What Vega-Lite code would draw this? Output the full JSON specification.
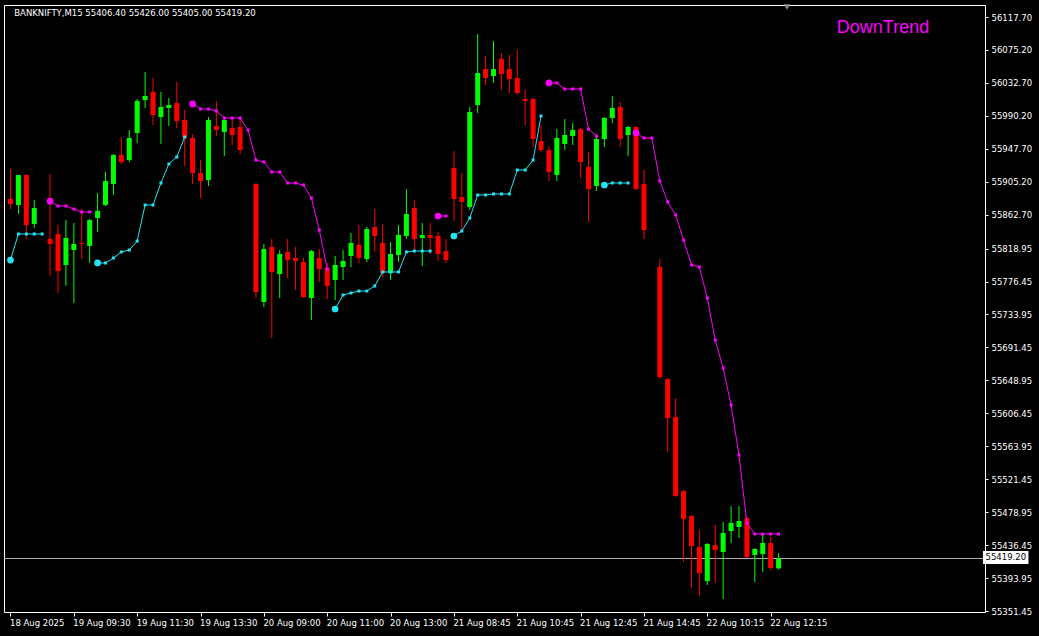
{
  "$schema": "https://vega.github.io/schema/vega-lite/v6.json",
  "width": 981,
  "height": 607,
  "autosize": {"type": "none"},
  "padding": {"left": 4, "top": 5, "right": 54, "bottom": 24},
  "background": "#000000",
  "config": {"view": {"stroke": "#ffffff", "strokeWidth": 1, "fill": "#000000"}},
  "resolve": {"axis": {"x": "independent", "y": "independent"}},
  "datasets": {
    "candles": [
      {"k":0,"o":55882.9,"h":55921.6,"l":55870.0,"c":55876.5},
      {"k":1,"o":55875.2,"h":55913.9,"l":55863.6,"c":55913.9},
      {"k":2,"o":55913.9,"h":55915.2,"l":55831.3,"c":55849.4},
      {"k":3,"o":55850.7,"h":55881.6,"l":55845.5,"c":55871.3},
      {"k":5,"o":55831.3,"h":55915.2,"l":55783.6,"c":55824.9},
      {"k":6,"o":55837.8,"h":55849.4,"l":55761.7,"c":55790.0},
      {"k":7,"o":55797.8,"h":55855.8,"l":55770.7,"c":55832.6},
      {"k":8,"o":55817.1,"h":55852.0,"l":55748.8,"c":55824.9},
      {"k":9,"o":55826.2,"h":55870.0,"l":55805.5,"c":55824.9},
      {"k":10,"o":55822.3,"h":55857.1,"l":55800.4,"c":55855.8},
      {"k":11,"o":55858.4,"h":55890.7,"l":55840.4,"c":55867.4},
      {"k":12,"o":55875.2,"h":55917.8,"l":55873.9,"c":55906.1},
      {"k":13,"o":55902.3,"h":55941.0,"l":55888.1,"c":55939.7},
      {"k":14,"o":55939.7,"h":55962.9,"l":55928.1,"c":55930.7},
      {"k":15,"o":55933.2,"h":55971.9,"l":55930.7,"c":55961.6},
      {"k":16,"o":55968.1,"h":56011.9,"l":55955.2,"c":56009.3},
      {"k":17,"o":56010.6,"h":56046.8,"l":56000.3,"c":56015.8},
      {"k":18,"o":56021.0,"h":56039.0,"l":55978.4,"c":55991.3},
      {"k":19,"o":55988.7,"h":56021.0,"l":55953.9,"c":56001.6},
      {"k":20,"o":56000.3,"h":56013.2,"l":55977.1,"c":56004.2},
      {"k":21,"o":56006.8,"h":56033.9,"l":55974.5,"c":55983.5},
      {"k":22,"o":55984.8,"h":55997.7,"l":55925.5,"c":55961.6},
      {"k":23,"o":55961.6,"h":55966.8,"l":55902.3,"c":55916.5},
      {"k":24,"o":55916.5,"h":55933.2,"l":55884.2,"c":55906.1},
      {"k":25,"o":55907.4,"h":55988.7,"l":55899.7,"c":55984.8},
      {"k":26,"o":55977.1,"h":56009.3,"l":55964.2,"c":55971.9},
      {"k":27,"o":55969.4,"h":55988.7,"l":55938.4,"c":55984.8},
      {"k":28,"o":55974.5,"h":55987.4,"l":55952.6,"c":55965.5},
      {"k":29,"o":55975.8,"h":55987.4,"l":55941.0,"c":55946.1},
      {"k":31,"o":55902.3,"h":55903.6,"l":55755.2,"c":55763.0},
      {"k":32,"o":55750.1,"h":55824.9,"l":55743.6,"c":55818.4},
      {"k":33,"o":55821.0,"h":55831.3,"l":55703.6,"c":55788.8},
      {"k":34,"o":55786.2,"h":55817.1,"l":55755.2,"c":55812.0},
      {"k":35,"o":55814.6,"h":55831.3,"l":55781.0,"c":55804.2},
      {"k":36,"o":55806.8,"h":55821.0,"l":55765.5,"c":55802.9},
      {"k":37,"o":55801.7,"h":55806.8,"l":55755.2,"c":55756.5},
      {"k":38,"o":55755.2,"h":55817.1,"l":55726.8,"c":55815.8},
      {"k":39,"o":55806.8,"h":55818.4,"l":55775.9,"c":55792.6},
      {"k":40,"o":55793.9,"h":55800.4,"l":55753.9,"c":55770.7},
      {"k":41,"o":55778.4,"h":55809.4,"l":55752.6,"c":55797.8},
      {"k":42,"o":55795.2,"h":55817.1,"l":55778.4,"c":55802.9},
      {"k":43,"o":55809.4,"h":55839.1,"l":55795.2,"c":55826.2},
      {"k":44,"o":55823.6,"h":55849.4,"l":55800.4,"c":55806.8},
      {"k":45,"o":55805.5,"h":55846.8,"l":55801.7,"c":55844.2},
      {"k":46,"o":55846.8,"h":55870.0,"l":55814.6,"c":55835.2},
      {"k":47,"o":55826.2,"h":55850.7,"l":55782.3,"c":55787.5},
      {"k":48,"o":55787.5,"h":55827.5,"l":55778.4,"c":55812.0},
      {"k":49,"o":55810.7,"h":55849.4,"l":55801.7,"c":55836.5},
      {"k":50,"o":55835.2,"h":55895.8,"l":55831.3,"c":55863.6},
      {"k":51,"o":55871.3,"h":55881.6,"l":55815.8,"c":55831.3},
      {"k":52,"o":55832.6,"h":55852.0,"l":55796.5,"c":55836.5},
      {"k":53,"o":55836.5,"h":55852.0,"l":55812.0,"c":55832.6},
      {"k":54,"o":55835.2,"h":55840.4,"l":55802.9,"c":55812.0},
      {"k":55,"o":55815.8,"h":55831.3,"l":55800.4,"c":55804.2},
      {"k":56,"o":55922.9,"h":55944.8,"l":55854.5,"c":55882.9},
      {"k":57,"o":55885.5,"h":55916.5,"l":55840.4,"c":55879.1},
      {"k":58,"o":55872.6,"h":56001.6,"l":55868.7,"c":55995.2},
      {"k":59,"o":56004.2,"h":56095.8,"l":55993.9,"c":56045.5},
      {"k":60,"o":56050.6,"h":56067.4,"l":56030.0,"c":56039.0},
      {"k":61,"o":56041.6,"h":56086.7,"l":56032.6,"c":56050.6},
      {"k":62,"o":56063.5,"h":56071.3,"l":56023.5,"c":56044.2},
      {"k":63,"o":56050.6,"h":56068.7,"l":56019.7,"c":56037.7},
      {"k":64,"o":56039.0,"h":56075.1,"l":56017.1,"c":56019.7},
      {"k":65,"o":56011.9,"h":56024.8,"l":55978.4,"c":56009.3},
      {"k":66,"o":56011.9,"h":56013.2,"l":55950.0,"c":55960.3},
      {"k":67,"o":55957.7,"h":55978.4,"l":55943.6,"c":55946.1},
      {"k":68,"o":55946.1,"h":55951.3,"l":55906.1,"c":55917.8},
      {"k":69,"o":55913.9,"h":55973.2,"l":55906.1,"c":55961.6},
      {"k":70,"o":55953.9,"h":55986.1,"l":55946.1,"c":55965.5},
      {"k":71,"o":55964.2,"h":55981.0,"l":55952.6,"c":55971.9},
      {"k":72,"o":55973.2,"h":55974.5,"l":55910.0,"c":55930.7},
      {"k":73,"o":55924.2,"h":55943.6,"l":55853.3,"c":55895.8},
      {"k":74,"o":55899.7,"h":55965.5,"l":55893.2,"c":55960.3},
      {"k":75,"o":55960.3,"h":55988.7,"l":55950.0,"c":55987.4},
      {"k":76,"o":55987.4,"h":56015.8,"l":55981.0,"c":56000.3},
      {"k":77,"o":56001.6,"h":56008.1,"l":55950.0,"c":55960.3},
      {"k":78,"o":55965.5,"h":55977.1,"l":55938.4,"c":55975.8},
      {"k":79,"o":55975.8,"h":55977.1,"l":55894.5,"c":55895.8},
      {"k":80,"o":55902.3,"h":55920.3,"l":55831.3,"c":55842.9},
      {"k":82,"o":55795.2,"h":55805.5,"l":55650.7,"c":55653.3},
      {"k":83,"o":55650.7,"h":55652.0,"l":55556.6,"c":55600.4},
      {"k":84,"o":55601.7,"h":55626.2,"l":55498.5,"c":55499.8},
      {"k":85,"o":55506.2,"h":55507.5,"l":55414.7,"c":55470.1},
      {"k":86,"o":55474.0,"h":55475.3,"l":55381.1,"c":55435.3},
      {"k":87,"o":55434.0,"h":55455.9,"l":55370.8,"c":55400.5},
      {"k":88,"o":55390.1,"h":55439.2,"l":55385.0,"c":55437.9},
      {"k":89,"o":55436.6,"h":55462.4,"l":55387.6,"c":55430.1},
      {"k":90,"o":55427.6,"h":55466.3,"l":55366.9,"c":55452.1},
      {"k":91,"o":55454.6,"h":55486.9,"l":55439.2,"c":55465.0},
      {"k":92,"o":55459.8,"h":55486.9,"l":55445.6,"c":55467.5},
      {"k":93,"o":55471.4,"h":55472.7,"l":55419.8,"c":55421.1},
      {"k":94,"o":55423.7,"h":55432.7,"l":55388.9,"c":55431.4},
      {"k":95,"o":55425.0,"h":55449.5,"l":55401.8,"c":55439.2},
      {"k":96,"o":55439.2,"h":55446.9,"l":55404.3,"c":55406.9},
      {"k":97,"o":55406.4,"h":55426.0,"l":55405.0,"c":55419.2}
    ],
    "st": [
      {"k":0,"v":55804.2,"t":"up","s":1,"d":1},
      {"k":1,"v":55837.8,"t":"up","s":1,"d":0},
      {"k":2,"v":55837.8,"t":"up","s":1,"d":0},
      {"k":3,"v":55837.8,"t":"up","s":1,"d":0},
      {"k":4,"v":55837.8,"t":"up","s":1,"d":0},
      {"k":5,"v":55880.3,"t":"dn","s":2,"d":1},
      {"k":6,"v":55873.9,"t":"dn","s":2,"d":0},
      {"k":7,"v":55873.9,"t":"dn","s":2,"d":0},
      {"k":8,"v":55870.0,"t":"dn","s":2,"d":0},
      {"k":9,"v":55866.2,"t":"dn","s":2,"d":0},
      {"k":10,"v":55866.2,"t":"dn","s":2,"d":0},
      {"k":11,"v":55800.4,"t":"up","s":3,"d":1},
      {"k":12,"v":55800.4,"t":"up","s":3,"d":0},
      {"k":13,"v":55806.8,"t":"up","s":3,"d":0},
      {"k":14,"v":55814.6,"t":"up","s":3,"d":0},
      {"k":15,"v":55817.1,"t":"up","s":3,"d":0},
      {"k":16,"v":55828.7,"t":"up","s":3,"d":0},
      {"k":17,"v":55875.2,"t":"up","s":3,"d":0},
      {"k":18,"v":55875.2,"t":"up","s":3,"d":0},
      {"k":19,"v":55903.6,"t":"up","s":3,"d":0},
      {"k":20,"v":55928.1,"t":"up","s":3,"d":0},
      {"k":21,"v":55937.1,"t":"up","s":3,"d":0},
      {"k":22,"v":55962.9,"t":"up","s":3,"d":0},
      {"k":23,"v":56005.5,"t":"dn","s":4,"d":1},
      {"k":24,"v":55999.0,"t":"dn","s":4,"d":0},
      {"k":25,"v":55999.0,"t":"dn","s":4,"d":0},
      {"k":26,"v":55996.4,"t":"dn","s":4,"d":0},
      {"k":27,"v":55987.4,"t":"dn","s":4,"d":0},
      {"k":28,"v":55987.4,"t":"dn","s":4,"d":0},
      {"k":29,"v":55987.4,"t":"dn","s":4,"d":0},
      {"k":30,"v":55971.9,"t":"dn","s":4,"d":0},
      {"k":31,"v":55933.2,"t":"dn","s":4,"d":0},
      {"k":32,"v":55930.7,"t":"dn","s":4,"d":0},
      {"k":33,"v":55917.8,"t":"dn","s":4,"d":0},
      {"k":34,"v":55917.8,"t":"dn","s":4,"d":0},
      {"k":35,"v":55903.6,"t":"dn","s":4,"d":0},
      {"k":36,"v":55903.6,"t":"dn","s":4,"d":0},
      {"k":37,"v":55901.0,"t":"dn","s":4,"d":0},
      {"k":38,"v":55884.2,"t":"dn","s":4,"d":0},
      {"k":39,"v":55842.9,"t":"dn","s":4,"d":0},
      {"k":40,"v":55792.6,"t":"dn","s":4,"d":0},
      {"k":41,"v":55741.0,"t":"up","s":5,"d":1},
      {"k":42,"v":55759.1,"t":"up","s":5,"d":0},
      {"k":43,"v":55761.7,"t":"up","s":5,"d":0},
      {"k":44,"v":55764.2,"t":"up","s":5,"d":0},
      {"k":45,"v":55764.2,"t":"up","s":5,"d":0},
      {"k":46,"v":55770.7,"t":"up","s":5,"d":0},
      {"k":47,"v":55788.8,"t":"up","s":5,"d":0},
      {"k":48,"v":55788.8,"t":"up","s":5,"d":0},
      {"k":49,"v":55788.8,"t":"up","s":5,"d":0},
      {"k":50,"v":55814.6,"t":"up","s":5,"d":0},
      {"k":51,"v":55815.8,"t":"up","s":5,"d":0},
      {"k":52,"v":55815.8,"t":"up","s":5,"d":0},
      {"k":53,"v":55815.8,"t":"up","s":5,"d":0},
      {"k":54,"v":55861.0,"t":"dn","s":6,"d":1},
      {"k":55,"v":55861.0,"t":"dn","s":6,"d":0},
      {"k":56,"v":55835.2,"t":"up","s":7,"d":1},
      {"k":57,"v":55841.6,"t":"up","s":7,"d":0},
      {"k":58,"v":55858.4,"t":"up","s":7,"d":0},
      {"k":59,"v":55888.1,"t":"up","s":7,"d":0},
      {"k":60,"v":55888.1,"t":"up","s":7,"d":0},
      {"k":61,"v":55889.4,"t":"up","s":7,"d":0},
      {"k":62,"v":55889.4,"t":"up","s":7,"d":0},
      {"k":63,"v":55889.4,"t":"up","s":7,"d":0},
      {"k":64,"v":55920.3,"t":"up","s":7,"d":0},
      {"k":65,"v":55920.3,"t":"up","s":7,"d":0},
      {"k":66,"v":55933.2,"t":"up","s":7,"d":0},
      {"k":67,"v":55990.0,"t":"up","s":7,"d":0},
      {"k":68,"v":56032.6,"t":"dn","s":8,"d":1},
      {"k":69,"v":56032.6,"t":"dn","s":8,"d":0},
      {"k":70,"v":56024.8,"t":"dn","s":8,"d":0},
      {"k":71,"v":56024.8,"t":"dn","s":8,"d":0},
      {"k":72,"v":56024.8,"t":"dn","s":8,"d":0},
      {"k":73,"v":55973.2,"t":"dn","s":8,"d":0},
      {"k":74,"v":55964.2,"t":"dn","s":8,"d":0},
      {"k":75,"v":55901.0,"t":"up","s":9,"d":1},
      {"k":76,"v":55903.6,"t":"up","s":9,"d":0},
      {"k":77,"v":55903.6,"t":"up","s":9,"d":0},
      {"k":78,"v":55903.6,"t":"up","s":9,"d":0},
      {"k":79,"v":55968.1,"t":"dn","s":10,"d":1},
      {"k":80,"v":55961.6,"t":"dn","s":10,"d":0},
      {"k":81,"v":55961.6,"t":"dn","s":10,"d":0},
      {"k":82,"v":55906.1,"t":"dn","s":10,"d":0},
      {"k":83,"v":55879.1,"t":"dn","s":10,"d":0},
      {"k":84,"v":55862.3,"t":"dn","s":10,"d":0},
      {"k":85,"v":55830.0,"t":"dn","s":10,"d":0},
      {"k":86,"v":55797.8,"t":"dn","s":10,"d":0},
      {"k":87,"v":55795.2,"t":"dn","s":10,"d":0},
      {"k":88,"v":55755.2,"t":"dn","s":10,"d":0},
      {"k":89,"v":55701.0,"t":"dn","s":10,"d":0},
      {"k":90,"v":55664.9,"t":"dn","s":10,"d":0},
      {"k":91,"v":55617.2,"t":"dn","s":10,"d":0},
      {"k":92,"v":55552.7,"t":"dn","s":10,"d":0},
      {"k":93,"v":55465.0,"t":"dn","s":10,"d":0},
      {"k":94,"v":55450.8,"t":"dn","s":10,"d":0},
      {"k":95,"v":55450.8,"t":"dn","s":10,"d":0},
      {"k":96,"v":55450.8,"t":"dn","s":10,"d":0},
      {"k":97,"v":55450.8,"t":"dn","s":10,"d":0}
    ]
  },
  "layer": [
    {
      "data": {"values": [{"p": 55419.2}]},
      "mark": {"type": "rule", "color": "#b4b4b4", "strokeWidth": 1},
      "encoding": {
        "y": {"field": "p", "type": "quantitative", "scale": {"domain": [55350.16, 56133.18], "nice": false, "zero": false}, "axis": null}
      }
    },
    {
      "data": {"name": "candles"},
      "mark": {"type": "rule", "strokeWidth": 1},
      "encoding": {
        "x": {"field": "k", "type": "quantitative",
          "scale": {"domain": [-0.1875, 122.4375], "nice": false, "zero": false},
          "axis": {"orient": "bottom", "values": [0,8,16,24,32,40,48,56,64,72,80,88,96],
            "labelExpr": "['18 Aug 2025','19 Aug 09:30','19 Aug 11:30','19 Aug 13:30','20 Aug 09:00','20 Aug 11:00','20 Aug 13:00','21 Aug 08:45','21 Aug 10:45','21 Aug 12:45','21 Aug 14:45','22 Aug 10:15','22 Aug 12:15'][round(datum.value/8)]",
            "labelAlign": "left", "labelBaseline": "top", "labelPadding": 2, "labelOffset": -1,
            "labelColor": "#ffffff", "labelFont": "DejaVu Sans", "labelFontSize": 8.5,
            "tickColor": "#ffffff", "tickSize": 4, "domain": false, "grid": false, "title": null,
            "labelOverlap": false, "labelFlush": false, "labelBound": false}},
        "y": {"field": "l", "type": "quantitative",
          "scale": {"domain": [55350.16, 56133.18], "nice": false, "zero": false},
          "axis": {"orient": "right",
            "values": [56117.70,56075.20,56032.70,55990.20,55947.70,55905.20,55862.70,55818.95,55776.45,55733.95,55691.45,55648.95,55606.45,55563.95,55521.45,55478.95,55436.45,55393.95,55351.45],
            "format": ".2f", "labelColor": "#ffffff", "labelFont": "DejaVu Sans", "labelFontSize": 8.5,
            "tickColor": "#ffffff", "tickSize": 3, "labelPadding": 3, "domain": false, "grid": false, "title": null,
            "labelOverlap": false, "labelFlush": false, "labelBound": false}},
        "y2": {"field": "h"},
        "color": {"condition": {"test": "datum.c >= datum.o", "value": "#00ff00"}, "value": "#ff0000"}
      }
    },
    {
      "data": {"name": "candles"},
      "mark": {"type": "bar", "width": 5},
      "encoding": {
        "x": {"field": "k", "type": "quantitative", "scale": {"domain": [-0.1875, 122.4375], "nice": false, "zero": false}, "axis": null},
        "y": {"field": "o", "type": "quantitative", "scale": {"domain": [55350.16, 56133.18], "nice": false, "zero": false}, "axis": null},
        "y2": {"field": "c"},
        "color": {"condition": {"test": "datum.c >= datum.o", "value": "#00ff00"}, "value": "#ff0000"}
      }
    },
    {
      "data": {"name": "st"},
      "mark": {"type": "line", "strokeWidth": 1, "point": {"shape": "square", "size": 9, "filled": true}},
      "encoding": {
        "x": {"field": "k", "type": "quantitative", "scale": {"domain": [-0.1875, 122.4375], "nice": false, "zero": false}, "axis": null},
        "y": {"field": "v", "type": "quantitative", "scale": {"domain": [55350.16, 56133.18], "nice": false, "zero": false}, "axis": null},
        "detail": {"field": "s", "type": "nominal"},
        "color": {"field": "t", "type": "nominal", "scale": {"domain": ["up", "dn"], "range": ["#22e4f2", "#ff00ff"]}, "legend": null}
      }
    },
    {
      "data": {"name": "st"},
      "transform": [{"filter": "datum.d == 1"}],
      "mark": {"type": "point", "shape": "circle", "filled": true, "size": 45, "opacity": 1},
      "encoding": {
        "x": {"field": "k", "type": "quantitative", "scale": {"domain": [-0.1875, 122.4375], "nice": false, "zero": false}, "axis": null},
        "y": {"field": "v", "type": "quantitative", "scale": {"domain": [55350.16, 56133.18], "nice": false, "zero": false}, "axis": null},
        "color": {"field": "t", "type": "nominal", "scale": {"domain": ["up", "dn"], "range": ["#22e4f2", "#ff00ff"]}, "legend": null}
      }
    },
    {
      "data": {"values": [{"t": "BANKNIFTY,M15  55406.40 55426.00 55405.00 55419.20"}]},
      "mark": {"type": "text", "align": "left", "baseline": "alphabetic", "color": "#ffffff", "font": "DejaVu Sans", "fontSize": 8.5},
      "encoding": {
        "text": {"field": "t"},
        "x": {"datum": 0.475, "type": "quantitative", "scale": {"domain": [-0.1875, 122.4375], "nice": false, "zero": false}, "axis": null},
        "y": {"datum": 56118.4, "type": "quantitative", "scale": {"domain": [55350.16, 56133.18], "nice": false, "zero": false}, "axis": null}
      }
    },
    {
      "data": {"values": [{"t": "DownTrend"}]},
      "mark": {"type": "text", "align": "center", "baseline": "alphabetic", "color": "#ff00ff", "font": "Liberation Sans", "fontSize": 18},
      "encoding": {
        "text": {"field": "t"},
        "x": {"datum": 110.19, "type": "quantitative", "scale": {"domain": [-0.1875, 122.4375], "nice": false, "zero": false}, "axis": null},
        "y": {"datum": 56096.7, "type": "quantitative", "scale": {"domain": [55350.16, 56133.18], "nice": false, "zero": false}, "axis": null}
      }
    },
    {
      "data": {"values": [{"t": "shift"}]},
      "mark": {"type": "point", "shape": "triangle-down", "filled": true, "size": 40, "color": "#8c8c8c", "opacity": 1},
      "encoding": {
        "x": {"datum": 98.06, "type": "quantitative", "scale": {"domain": [-0.1875, 122.4375], "nice": false, "zero": false}, "axis": null},
        "y": {"datum": 56130.6, "type": "quantitative", "scale": {"domain": [55350.16, 56133.18], "nice": false, "zero": false}, "axis": null}
      }
    },
    {
      "data": {"values": [{"x1": 122.81, "x2": 128.56, "y1": 55412.1, "y2": 55428.8}]},
      "mark": {"type": "rect", "color": "#ffffff", "opacity": 1},
      "encoding": {
        "x": {"field": "x1", "type": "quantitative", "scale": {"domain": [-0.1875, 122.4375], "nice": false, "zero": false}, "axis": null},
        "x2": {"field": "x2"},
        "y": {"field": "y1", "type": "quantitative", "scale": {"domain": [55350.16, 56133.18], "nice": false, "zero": false}, "axis": null},
        "y2": {"field": "y2"}
      }
    },
    {
      "data": {"values": [{"t": "55419.20", "x": 125.7, "y": 55420.5}]},
      "mark": {"type": "text", "align": "center", "baseline": "middle", "color": "#000000", "font": "DejaVu Sans", "fontSize": 8.5},
      "encoding": {
        "text": {"field": "t"},
        "x": {"field": "x", "type": "quantitative", "scale": {"domain": [-0.1875, 122.4375], "nice": false, "zero": false}, "axis": null},
        "y": {"field": "y", "type": "quantitative", "scale": {"domain": [55350.16, 56133.18], "nice": false, "zero": false}, "axis": null}
      }
    }
  ]
}
